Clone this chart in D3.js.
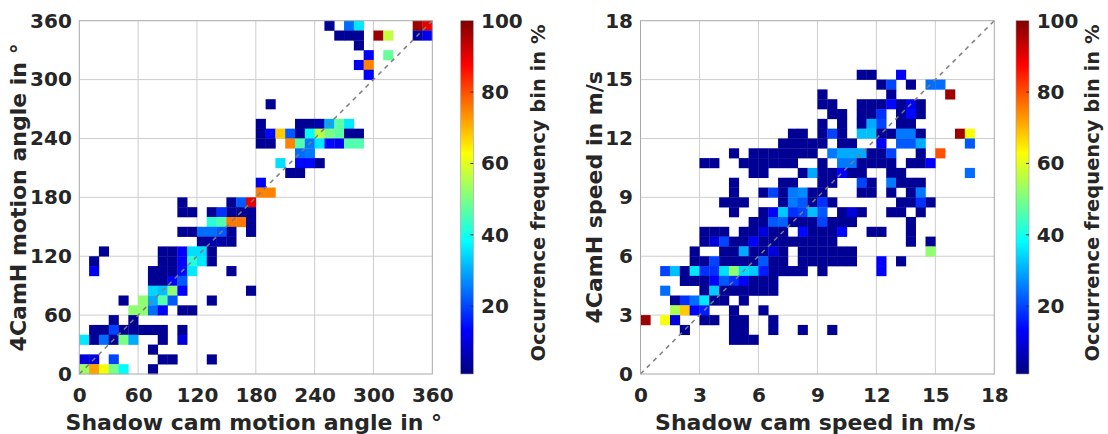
<!DOCTYPE html>
<html><head><meta charset="utf-8">
<script src="https://cdn.jsdelivr.net/npm/d3@7"></script>
<style>
body{margin:0;background:#fff}
svg{display:block}
text{font-family:"DejaVu Sans",Verdana,sans-serif;font-weight:bold;fill:#262626}
</style>
</head><body>
<svg id="chart" width="1108" height="434"></svg>
<script>
// ---------------- data ----------------
const angleTicks = [0, 60, 120, 180, 240, 300, 360];
const speedTicks = [0, 3, 6, 9, 12, 15, 18];
const colorTicks = [20, 40, 60, 80, 100];
const colorDomain = [1, 100];
const angleBin = 10;   // degrees
const speedBin = 0.5;  // m/s
const angleXLabel = "Shadow cam motion angle in °";
const angleYLabel = "4CamH motion angle in °";
const speedXLabel = "Shadow cam speed in m/s";
const speedYLabel = "4CamH speed in m/s";
const colorLabel = "Occurrence frequency bin in %";

// [bin start shadow cam angle, bin start 4CamH angle, occurrence %]
const angleCells = [
 [250,350,3],[270,350,24],[280,350,36],[340,350,97],[350,350,90],
 [260,340,3],[270,340,3],[280,340,3],[300,340,97],[310,340,57],[340,340,4],[350,340,12],
 [280,330,3],
 [290,320,13],[310,320,48],
 [280,310,12],[290,310,75],
 [290,300,13],
 [190,270,3],
 [180,250,3],[220,250,3],[230,250,3],[240,250,6],[250,250,30],[260,250,47],[270,250,36],
 [180,240,3],[190,240,14],[200,240,68],[210,240,22],[220,240,3],[230,240,38],[240,240,56],[250,240,50],[260,240,47],[270,240,3],[280,240,3],
 [180,230,3],[190,230,3],[210,230,75],[220,230,46],[230,230,25],[240,230,36],[250,230,14],[260,230,12],[270,230,46],[280,230,46],
 [220,220,24],[230,220,25],
 [200,210,35],[220,210,14],[230,210,14],[240,210,3],
 [210,200,3],[220,200,3],
 [180,190,13],
 [180,180,75],[190,180,75],
 [100,170,3],[150,170,3],[160,170,22],[170,170,90],
 [100,160,3],[110,160,3],[130,160,3],[140,160,18],[150,160,3],[160,160,3],[170,160,3],
 [130,150,42],[140,150,46],[150,150,76],[160,150,76],[170,150,3],
 [100,140,3],[110,140,3],[120,140,24],[130,140,24],[140,140,22],[150,140,3],[170,140,3],
 [120,130,3],[130,130,5],[140,130,5],[150,130,3],
 [20,120,3],[80,120,3],[90,120,3],[100,120,13],[110,120,35],[120,120,35],[130,120,3],
 [10,110,3],[80,110,3],[90,110,3],[100,110,13],[110,110,42],[120,110,36],[130,110,3],
 [10,100,12],[70,100,3],[80,100,3],[90,100,3],[100,100,14],[110,100,36],[150,100,3],
 [70,90,3],[80,90,3],[90,90,13],[100,90,22],
 [70,80,34],[80,80,32],[90,80,52],[100,80,13],[170,80,3],
 [40,70,3],[60,70,52],[70,70,30],[80,70,46],[90,70,22],[130,70,3],
 [50,60,52],[60,60,52],[70,60,24],[80,60,13],[100,60,3],[110,60,3],
 [30,50,3],[50,50,3],
 [10,40,3],[20,40,3],[30,40,20],[40,40,3],[50,40,3],[60,40,3],[70,40,3],[80,40,3],[100,40,3],
 [0,30,36],[10,30,3],[20,30,24],[30,30,3],[40,30,50],[50,30,30],[80,30,3],[100,30,10],
 [70,20,3],
 [0,10,10],[10,10,10],[30,10,20],[80,10,3],[90,10,3],[130,10,3],
 [0,0,53],[10,0,72],[20,0,62],[30,0,50],[40,0,38],[70,0,3]
];

// [bin start shadow cam speed, bin start 4CamH speed, occurrence %]
const speedCells = [
 [11,15,3],[11.5,15,3],[13,15,13],
 [12,14.5,3],[12.5,14.5,20],[13.5,14.5,3],[14.5,14.5,24],[15,14.5,24],
 [9,14,3],[12.5,14,3],[15.5,14,97],
 [9,13.5,3],[9.5,13.5,3],[11,13.5,3],[11.5,13.5,3],[12,13.5,3],[12.5,13.5,14],[13,13.5,3],[13.5,13.5,12],[14,13.5,3],
 [9.5,13,3],[10,13,3],[11,13,3],[11.5,13,3],[12,13,18],[13,13,3],[13.5,13,14],[14,13,3],
 [9,12.5,3],[10,12.5,3],[11,12.5,3],[11.5,12.5,30],[12,12.5,20],[13,12.5,3],[13.5,12.5,3],
 [7.5,12,3],[8,12,3],[9,12,3],[9.5,12,20],[10,12,3],[11,12,32],[11.5,12,32],[12,12,3],[12.5,12,3],[13,12,25],[13.5,12,25],[14,12,3],[16,12,97],[16.5,12,62],
 [7,11.5,3],[7.5,11.5,3],[8,11.5,3],[8.5,11.5,3],[9,11.5,3],[10,11.5,3],[10.5,11.5,3],[12,11.5,13],[13,11.5,22],[13.5,11.5,22],[14,11.5,30],[16.5,11.5,22],
 [4.5,11,3],[5.5,11,3],[6,11,3],[6.5,11,3],[7,11,3],[7.5,11,3],[8,11,3],[8.5,11,3],[9.5,11,25],[10,11,30],[10.5,11,30],[11,11,30],[11.5,11,3],[12,11,3],[12.5,11,20],[14,11,3],[15,11,80],
 [3,10.5,3],[3.5,10.5,3],[5,10.5,3],[5.5,10.5,3],[6,10.5,3],[6.5,10.5,3],[7,10.5,3],[7.5,10.5,3],[9,10.5,3],[10,10.5,25],[10.5,10.5,25],[11,10.5,3],[11.5,10.5,3],[12,10.5,3],[12.5,10.5,3],[13.5,10.5,3],[14,10.5,3],[14.5,10.5,13],
 [5.5,10,3],[6,10,3],[8,10,3],[8.5,10,30],[9,10,3],[9.5,10,3],[10,10,13],[10.5,10,3],[11,10,3],[12.5,10,3],[13,10,3],[16.5,10,24],
 [4.5,9.5,3],[7,9.5,3],[7.5,9.5,3],[9,9.5,3],[9.5,9.5,3],[11,9.5,20],[11.5,9.5,3],[12.5,9.5,25],[13,9.5,3],[13.5,9.5,3],[14,9.5,3],
 [4.5,9,3],[6,9,3],[6.5,9,20],[7,9,3],[7.5,9,25],[8,9,27],[8.5,9,3],[9,9,3],[11,9,3],[11.5,9,3],[12.5,9,3],[13.5,9,3],[14,9,25],
 [4,8.5,3],[4.5,8.5,3],[5,8.5,3],[7,8.5,3],[7.5,8.5,25],[8,8.5,22],[8.5,8.5,3],[9,8.5,18],[9.5,8.5,3],[13,8.5,3],[13.5,8.5,3],[14,8.5,18],[14.5,8.5,3],
 [4.5,8,3],[6,8,3],[6.5,8,13],[7,8,33],[7.5,8,18],[8,8,20],[8.5,8,32],[9,8,22],[10,8,3],[10.5,8,10],[11,8,3],[12.5,8,3],[13,8,3],[14,8,3],
 [5.5,7.5,3],[6,7.5,3],[6.5,7.5,22],[7,7.5,23],[7.5,7.5,3],[8,7.5,3],[8.5,7.5,3],[9,7.5,20],[9.5,7.5,3],[10,7.5,3],[10.5,7.5,3],[13.5,7.5,3],
 [3,7,3],[3.5,7,3],[4,7,3],[5,7,3],[5.5,7,3],[6,7,10],[6.5,7,3],[7,7,3],[8,7,14],[8.5,7,3],[9,7,3],[9.5,7,3],[10,7,14],[11.5,7,3],[12,7,3],[13.5,7,3],
 [3,6.5,3],[3.5,6.5,10],[4,6.5,20],[4.5,6.5,3],[5,6.5,3],[5.5,6.5,13],[6,6.5,3],[6.5,6.5,3],[7,6.5,3],[7.5,6.5,3],[8,6.5,3],[8.5,6.5,3],[9,6.5,3],[9.5,6.5,3],[13.5,6.5,3],[14.5,6.5,3],
 [2.5,6,3],[4,6,3],[4.5,6,3],[5,6,30],[5.5,6,3],[6,6,3],[6.5,6,10],[7,6,3],[8,6,3],[8.5,6,3],[9,6,3],[9.5,6,3],[10,6,3],[10.5,6,3],[14.5,6,52],
 [2.5,5.5,3],[3,5.5,3],[3.5,5.5,20],[4,5.5,3],[4.5,5.5,3],[5,5.5,3],[5.5,5.5,3],[6,5.5,22],[6.5,5.5,3],[7,5.5,3],[8,5.5,3],[8.5,5.5,3],[9,5.5,3],[9.5,5.5,3],[10,5.5,3],[10.5,5.5,3],[12,5.5,13],[13,5.5,3],
 [1,5,20],[1.5,5,32],[2,5,3],[2.5,5,36],[3,5,18],[3.5,5,18],[4,5,35],[4.5,5,52],[5,5,35],[5.5,5,33],[6,5,16],[6.5,5,3],[7,5,3],[7.5,5,3],[8,5,3],[9,5,3],[12,5,13],
 [2,4.5,3],[2.5,4.5,3],[3,4.5,3],[3.5,4.5,13],[4,4.5,22],[4.5,4.5,18],[5,4.5,13],[5.5,4.5,3],[6,4.5,3],[6.5,4.5,3],
 [1,4,24],[3,4,3],[3.5,4,33],[4,4,3],[4.5,4,3],[5,4,3],[5.5,4,3],[6,4,3],[6.5,4,3],
 [1.5,3.5,3],[2,3.5,18],[2.5,3.5,24],[3,3.5,36],[3.5,3.5,3],[4,3.5,3],[5,3.5,3],
 [1.5,3,55],[2,3,68],[2.5,3,13],[3,3,16],[4.5,3,3],[6,3,3],
 [0,2.5,97],[1,2.5,62],[1.5,2.5,10],[3,2.5,3],[3.5,2.5,3],[4.5,2.5,3],[5,2.5,3],[6.5,2.5,3],
 [2,2,3],[4.5,2,3],[5,2,3],[6.5,2,3],[8,2,3],[9.5,2,3],
 [4.5,1.5,3],[5,1.5,3],[5.5,1.5,3]
];

// ---------------- drawing ----------------
const jet = t => {
  t = Math.max(0, Math.min(1, t));
  const f = v => Math.round(255 * Math.max(0, Math.min(1, v)));
  return `rgb(${f(1.5 - Math.abs(4*t - 3))},${f(1.5 - Math.abs(4*t - 2))},${f(1.5 - Math.abs(4*t - 1))})`;
};
const color = d3.scaleSequential(jet).domain(colorDomain).clamp(true);

const svg = d3.select("#chart");
const defs = svg.append("defs");
const grad = defs.append("linearGradient").attr("id", "jetgrad")
  .attr("x1", 0).attr("y1", 1).attr("x2", 0).attr("y2", 0);
d3.range(0, 1.0001, 1/64).forEach(t => grad.append("stop").attr("offset", t).attr("stop-color", jet(t)));

function panel(cfg) {
  const x = d3.scaleLinear().domain(cfg.domain).range(cfg.xr);
  const y = d3.scaleLinear().domain(cfg.domain).range(cfg.yr);
  const g = svg.append("g");
  const [x0, x1] = cfg.xr, [y0, y1] = cfg.yr;

  // grid
  g.append("g").selectAll("line").data(cfg.ticks.slice(1, -1)).join("line")
    .attr("x1", d => x(d)).attr("x2", d => x(d)).attr("y1", y0).attr("y2", y1)
    .attr("stroke", "#cdcdcd").attr("stroke-width", 1);
  g.append("g").selectAll("line").data(cfg.ticks.slice(1, -1)).join("line")
    .attr("y1", d => y(d)).attr("y2", d => y(d)).attr("x1", x0).attr("x2", x1)
    .attr("stroke", "#cdcdcd").attr("stroke-width", 1);

  // cells
  g.append("g").selectAll("rect").data(cfg.cells).join("rect")
    .attr("x", d => x(d[0]))
    .attr("y", d => y(d[1] + cfg.bin))
    .attr("width", d => x(d[0] + cfg.bin) - x(d[0]) + 0.3)
    .attr("height", d => y(d[1]) - y(d[1] + cfg.bin) + 0.3)
    .attr("fill", d => color(d[2]));

  // diagonal 1:1 line
  g.append("line")
    .attr("x1", x(cfg.domain[0])).attr("y1", y(cfg.domain[0]))
    .attr("x2", x(cfg.domain[1])).attr("y2", y(cfg.domain[1]))
    .attr("stroke", "#7d7d7d").attr("stroke-width", 1.5).attr("stroke-dasharray", "4.5,4.5");

  // box
  g.append("rect").attr("x", x0).attr("y", y1).attr("width", x1 - x0).attr("height", y0 - y1)
    .attr("fill", "none").attr("stroke", "#a8a8a8").attr("stroke-width", 1);

  // axes (labels only)
  const ax = g.append("g").attr("transform", `translate(0,${y0})`)
    .call(d3.axisBottom(x).tickValues(cfg.ticks).tickSize(0).tickPadding(13.5));
  const ay = g.append("g").attr("transform", `translate(${x0},0)`)
    .call(d3.axisLeft(y).tickValues(cfg.ticks).tickSize(0).tickPadding(7.5));
  [ax, ay].forEach(a => {
    a.select(".domain").remove();
    a.selectAll("text").attr("font-size", 20).attr("font-family", null).attr("fill", "#262626");
    a.attr("font-family", null).attr("font-size", null);
  });

  // axis titles
  g.append("text").attr("x", (x0 + x1) / 2 - 2).attr("y", 430).attr("text-anchor", "middle")
    .attr("font-size", 22).text(cfg.xlabel);
  g.append("text").attr("transform", `translate(${cfg.ylabelX},${(y0 + y1) / 2}) rotate(-90)`)
    .attr("text-anchor", "middle").attr("font-size", 22).text(cfg.ylabel);

  // colorbar
  const yc = d3.scaleLinear().domain(colorDomain).range([y0, y1]);
  const [cx0, cx1] = cfg.cbx;
  g.append("rect").attr("x", cx0).attr("y", y1).attr("width", cx1 - cx0).attr("height", y0 - y1)
    .attr("fill", "url(#jetgrad)").attr("stroke", "#9a9a9a").attr("stroke-width", 0.6);
  g.append("g").selectAll("line").data(colorTicks.slice(0, -1)).join("line")
    .attr("x1", cx1 - 3).attr("x2", cx1).attr("y1", d => yc(d)).attr("y2", d => yc(d))
    .attr("stroke", "#333").attr("stroke-width", 1);
  const ac = g.append("g").attr("transform", `translate(${cx1},0)`)
    .call(d3.axisRight(yc).tickValues(colorTicks).tickSize(0).tickPadding(7.7));
  ac.select(".domain").remove();
  ac.attr("font-family", null).attr("font-size", null);
  ac.selectAll("text").attr("font-size", 20).attr("fill", "#262626");
  g.append("text").attr("transform", `translate(${cfg.cbLabelX},193) rotate(-90)`)
    .attr("text-anchor", "middle").attr("font-size", 19.5).text(colorLabel);
}

panel({
  domain: [0, 360], ticks: angleTicks, cells: angleCells, bin: angleBin,
  xr: [79.3, 432.3], yr: [374, 20.7], cbx: [460.7, 473.3],
  xlabel: angleXLabel, ylabel: angleYLabel, ylabelX: 26, cbLabelX: 545
});
panel({
  domain: [0, 18], ticks: speedTicks, cells: speedCells, bin: speedBin,
  xr: [640.5, 994.3], yr: [374, 20.7], cbx: [1016, 1029],
  xlabel: speedXLabel, ylabel: speedYLabel, ylabelX: 601.5, cbLabelX: 1099
});
</script>
</body></html>
